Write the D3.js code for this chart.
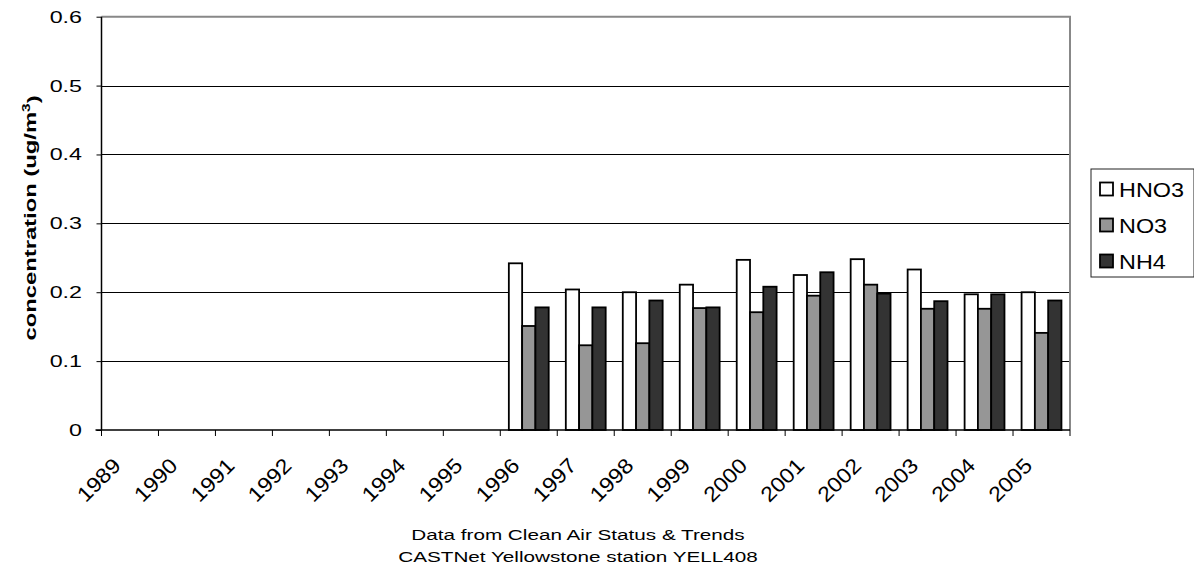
<!DOCTYPE html>
<html><head><meta charset="utf-8">
<script src="https://cdn.jsdelivr.net/npm/d3@7"></script>
<style>body{margin:0;background:#fff}svg{display:block;font-family:Arial,"Liberation Sans",sans-serif}</style>
</head><body><svg id="c" width="1194" height="571"></svg>
<script>
const years = ["1989","1990","1991","1992","1993","1994","1995","1996","1997","1998","1999","2000","2001","2002","2003","2004","2005"];
const seriesNames = ["HNO3","NO3","NH4"];
const hno3 = [null,null,null,null,null,null,null,0.242,0.204,0.200,0.211,0.247,0.225,0.248,0.233,0.197,0.200];
const no3  = [null,null,null,null,null,null,null,0.151,0.123,0.126,0.177,0.171,0.195,0.211,0.176,0.176,0.141];
const nh4  = [null,null,null,null,null,null,null,0.178,0.178,0.188,0.178,0.208,0.229,0.198,0.187,0.197,0.188];
const yTicks = [0,0.1,0.2,0.3,0.4,0.5,0.6];
const fills = ["#ffffff","#969696","#333333"];

const svg = d3.select("#c");
const L = 101.5, R = 1070, T = 16.7, B = 430;
const SX = 1.37; // wide glyphs of the original rendering
const x = d3.scaleBand().domain(years).range([L,R]).padding(0);
const y = d3.scaleLinear().domain([0,0.6]).range([B,T]);
const bw = x.bandwidth()*0.2333;
const inner = d3.scaleBand().domain(seriesNames).range([0,bw*3]);
const off = (x.bandwidth()-bw*3)/2;

// gridlines
svg.append("g").selectAll("line").data(yTicks.filter(d=>d>0 && d<0.6)).join("line")
  .attr("x1",L).attr("x2",R).attr("y1",d=>Math.round(y(d))+0.5).attr("y2",d=>Math.round(y(d))+0.5)
  .attr("stroke","#000").attr("stroke-width",1);
// plot border top/right gray
svg.append("path").attr("d",`M${L},${T}H${R}V${B}`).attr("fill","none").attr("stroke","#888").attr("stroke-width",2);

// bars
const data = [hno3,no3,nh4];
data.forEach((vals,si)=>{
  svg.append("g").selectAll("rect").data(years.map((yr,i)=>({yr,v:vals[i]})).filter(d=>d.v!=null)).join("rect")
    .attr("x",d=>x(d.yr)+off+inner(seriesNames[si]))
    .attr("width",inner.bandwidth())
    .attr("y",d=>y(d.v))
    .attr("height",d=>B-y(d.v))
    .attr("fill",fills[si]).attr("stroke","#000").attr("stroke-width",1.8);
});

// y axis
const yAxis = d3.axisLeft(y).tickValues(yTicks).tickFormat("").tickSize(5);
const ga = svg.append("g").attr("transform",`translate(${L},0)`).call(yAxis);
ga.select(".domain").attr("stroke","#000").attr("stroke-width",1.5).attr("d",`M0,${T}V${B}`);
svg.append("g").selectAll("text").data(yTicks).join("text")
  .attr("transform",d=>`translate(82,${y(d)+6}) scale(${SX},1)`)
  .attr("text-anchor","end").attr("font-size","17px").attr("fill","#000")
  .text(d=>d===0?"0":d3.format(".1f")(d));

// x axis
const gx = svg.append("g").attr("transform",`translate(0,${B})`);
gx.append("line").attr("x1",L-6).attr("x2",R).attr("y1",0).attr("y2",0).attr("stroke","#000").attr("stroke-width",1.5);
const bounds = years.map(d=>x(d)).concat([R]);
gx.selectAll("line.t").data(bounds).join("line").attr("class","t")
  .attr("x1",d=>d).attr("x2",d=>d).attr("y1",0).attr("y2",6).attr("stroke","#000").attr("stroke-width",1);
gx.selectAll("text").data(years).join("text")
  .attr("transform",d=>`translate(${x(d)+x.bandwidth()/2-8},${37}) rotate(-45) scale(1.1,1)`)
  .attr("text-anchor","end").attr("font-size","21px").attr("fill","#000").text(d=>d);

// y title
const yt = svg.append("text").attr("transform",`translate(35.5,218) rotate(-90) scale(1.40,1)`)
  .attr("text-anchor","middle").attr("font-size","17px").attr("font-weight","bold");
yt.append("tspan").text("concentration  (ug/m");
yt.append("tspan").attr("dy","-0.5em").attr("font-size","11px").text("3");
yt.append("tspan").attr("dy","0.5em").text(")");

// bottom caption
svg.append("text").attr("transform",`translate(578,540) scale(1.38,1)`).attr("text-anchor","middle").attr("font-size","15px").text("Data from Clean Air Status & Trends");
svg.append("text").attr("transform",`translate(578,561.5) scale(1.38,1)`).attr("text-anchor","middle").attr("font-size","15px").text("CASTNet Yellowstone station YELL408");

// legend
const lg = svg.append("g");
lg.append("rect").attr("x",1091).attr("y",169).attr("width",103).attr("height",108).attr("fill","#fff").attr("stroke","#222").attr("stroke-width",1);
seriesNames.forEach((n,i)=>{
  const cy = 189 + i*36;
  lg.append("rect").attr("x",1100).attr("y",cy-6.5).attr("width",13).attr("height",13).attr("fill",fills[i]).attr("stroke","#000").attr("stroke-width",1.8);
  lg.append("text").attr("transform",`translate(1119,${cy+7.5}) scale(1.17,1)`).attr("font-size","20px").text(n);
});
</script></body></html>
